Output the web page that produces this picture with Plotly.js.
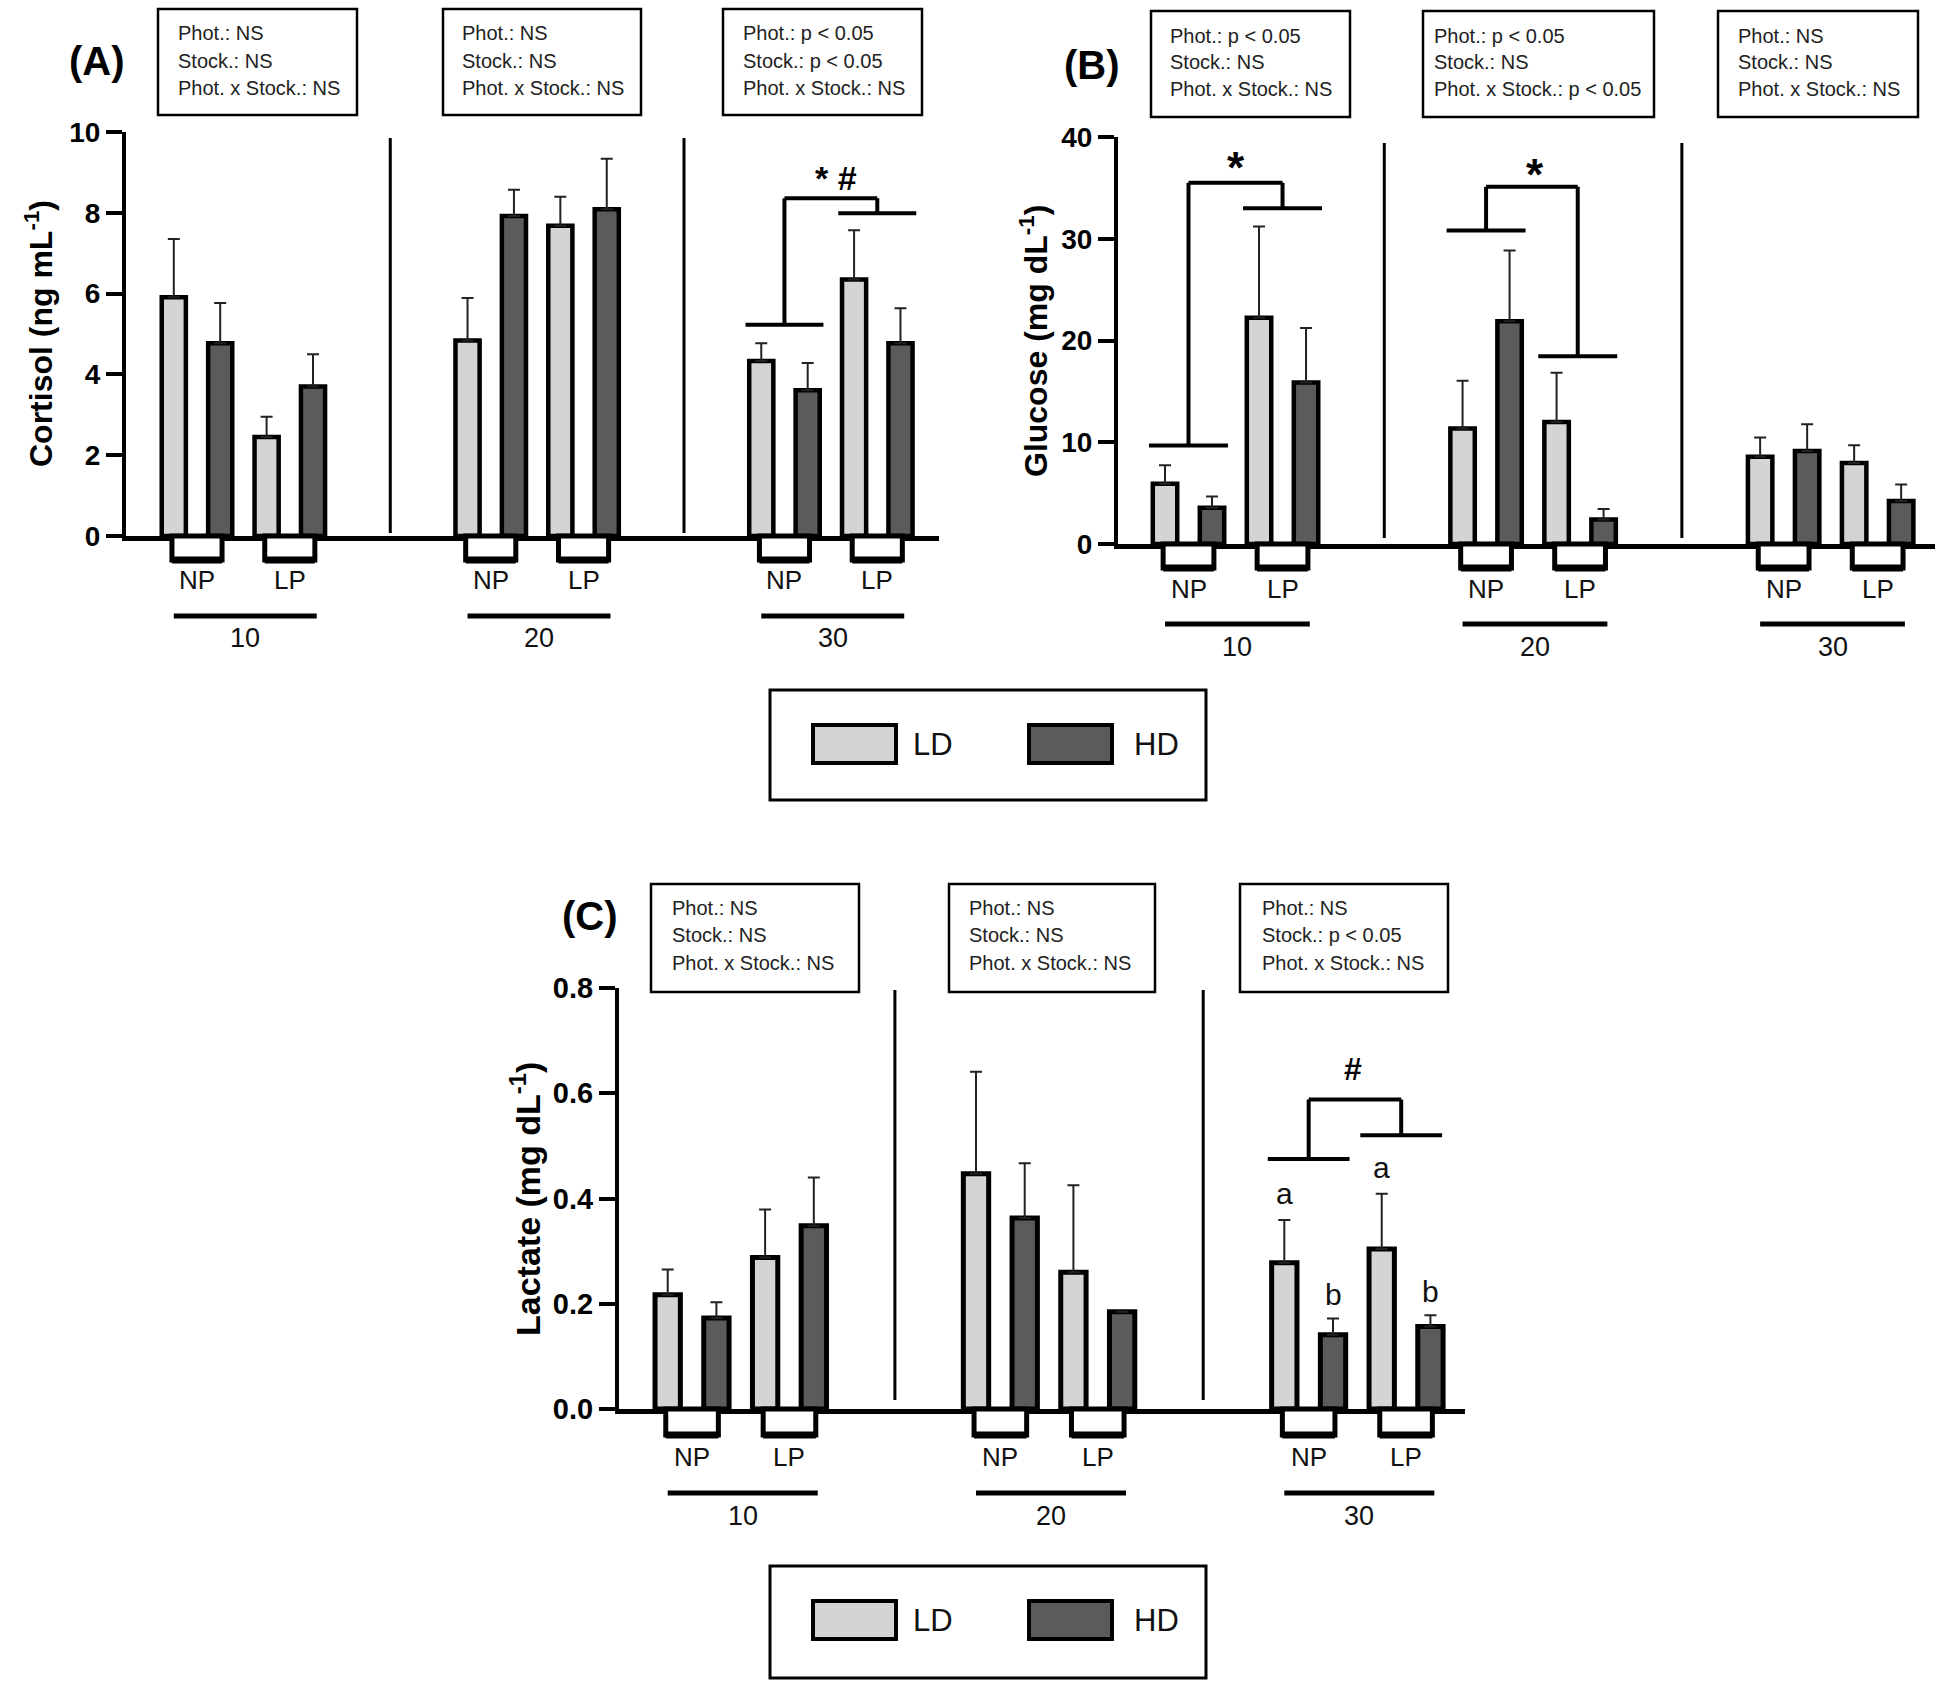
<!DOCTYPE html>
<html><head><meta charset="utf-8">
<script src="https://cdn.plot.ly/plotly-3.0.1.min.js"></script>
<style>html,body{margin:0;padding:0;background:#fff}#chart{width:1949px;height:1682px}</style>
</head><body><div id="chart"></div>
<script>
// ---------------- data ----------------
const stockingGroups = ['10', '20', '30'];
const photoperiods = ['NP', 'LP'];
const densities = ['LD', 'HD'];
// value order: 10-NP, 10-LP, 20-NP, 20-LP, 30-NP, 30-LP
const cortisolLD   = [5.91, 2.45, 4.84, 7.68, 4.33, 6.35];
const cortisolLDse = [1.44, 0.50, 1.05, 0.72, 0.44, 1.22];
const cortisolHD   = [4.77, 3.70, 7.92, 8.09, 3.61, 4.77];
const cortisolHDse = [1.00, 0.80, 0.65, 1.25, 0.67, 0.87];
const glucoseLD    = [5.93, 22.24, 11.34, 12.00, 8.57, 7.96];
const glucoseLDse  = [1.81, 8.96, 4.70, 4.84, 1.89, 1.75];
const glucoseHD    = [3.56, 15.87, 21.89, 2.42, 9.14, 4.22];
const glucoseHDse  = [1.10, 5.36, 6.95, 1.01, 2.64, 1.63];
const lactateLD    = [0.217, 0.288, 0.447, 0.260, 0.278, 0.304];
const lactateLDse  = [0.048, 0.091, 0.194, 0.165, 0.081, 0.105];
const lactateHD    = [0.173, 0.348, 0.363, 0.185, 0.141, 0.157];
const lactateHDse  = [0.030, 0.092, 0.104, 0.000, 0.031, 0.021];
const lactateLetterLD = ['', '', '', '', 'a', 'a'];
const lactateLetterHD = ['', '', '', '', 'b', 'b'];

const cortisolTicks = [0, 2, 4, 6, 8, 10];
const glucoseTicks  = [0, 10, 20, 30, 40];
const lactateTicks  = [0, 0.2, 0.4, 0.6, 0.8];

const statsCortisol = [
  ['Phot.: NS', 'Stock.: NS', 'Phot. x Stock.: NS'],
  ['Phot.: NS', 'Stock.: NS', 'Phot. x Stock.: NS'],
  ['Phot.: p < 0.05', 'Stock.: p < 0.05', 'Phot. x Stock.: NS']];
const statsGlucose = [
  ['Phot.: p < 0.05', 'Stock.: NS', 'Phot. x Stock.: NS'],
  ['Phot.: p < 0.05', 'Stock.: NS', 'Phot. x Stock.: p < 0.05'],
  ['Phot.: NS', 'Stock.: NS', 'Phot. x Stock.: NS']];
const statsLactate = [
  ['Phot.: NS', 'Stock.: NS', 'Phot. x Stock.: NS'],
  ['Phot.: NS', 'Stock.: NS', 'Phot. x Stock.: NS'],
  ['Phot.: NS', 'Stock.: p < 0.05', 'Phot. x Stock.: NS']];

// ---------------- layout helpers ----------------
const W = 1949, H = 1682;
const PX = x => x / W, PY = y => 1 - y / H;
const G = 6.33; // spacing between stocking groups, in bar slots
const FONT = '"Liberation Sans", Arial, Helvetica, sans-serif';
const LDcol = '#d4d4d4', HDcol = '#5b5b5b';

// bar slot positions: group g, photoperiod p, density d -> g*G + 2p + d
const xLD = [], xHD = [];
stockingGroups.forEach((g, gi) => photoperiods.forEach((p, pi) => {
  xLD.push(gi * G + 2 * pi);
  xHD.push(gi * G + 2 * pi + 1);
}));

const panels = [
  { id: '', label: '(A)', labelPos: [97, 61], title: 'Cortisol (ng mL<sup>-1</sup>)', titlePos: [39, 334], titleSize: 32,
    ld: cortisolLD, ldSe: cortisolLDse, hd: cortisolHD, hdSe: cortisolHDse, stats: statsCortisol, ticks: cortisolTicks, fmt: 'd',
    plotX: [126, 939], plotY: [536, 132], xRange: [-1.03, 16.49], tickSize: 28,
    boxes: [[158, 357], [443, 641], [723, 922]], boxY: [9, 115], textX: [177, 461, 742], textY: [33, 61, 88],
    divY: [138, 533], subBottom: 560, npY: 580, lineY: 616, grpY: 638, barLine: 4.5 },
  { id: '2', label: '(B)', labelPos: [1092, 65], title: 'Glucose (mg dL<sup>-1</sup>)', titlePos: [1034, 341], titleSize: 32,
    ld: glucoseLD, ldSe: glucoseLDse, hd: glucoseHD, hdSe: glucoseHDse, stats: statsGlucose, ticks: glucoseTicks, fmt: 'd',
    plotX: [1118, 1935], plotY: [544, 137], xRange: [-1.0, 16.38], tickSize: 28,
    boxes: [[1151, 1350], [1423, 1654], [1718, 1918]], boxY: [11, 117], textX: [1169, 1433, 1737], textY: [36, 62, 89],
    divY: [143, 538], subBottom: 568, npY: 589, lineY: 624, grpY: 647, barLine: 4.5 },
  { id: '3', label: '(C)', labelPos: [590, 916], title: 'Lactate (mg dL<sup>-1</sup>)', titlePos: [525, 1199], titleSize: 34,
    ld: lactateLD, ldSe: lactateLDse, hd: lactateHD, hdSe: lactateHDse, stats: statsLactate, ticks: lactateTicks, fmt: '.1f',
    plotX: [619, 1465], plotY: [1409, 988], xRange: [-1.0, 16.37], tickSize: 29,
    boxes: [[651, 859], [949, 1155], [1240, 1448]], boxY: [884, 992], textX: [671, 968, 1261], textY: [908, 935, 963],
    divY: [990, 1400], subBottom: 1435, npY: 1457, lineY: 1493, grpY: 1516, barLine: 5 }
];

const traces = [], shapes = [], annotations = [];
const layout = {
  width: W, height: H, autosize: false,
  margin: { l: 0, r: 0, t: 0, b: 0, pad: 0 },
  paper_bgcolor: '#fff', plot_bgcolor: 'rgba(0,0,0,0)',
  barmode: 'overlay', showlegend: false,
  font: { family: FONT, color: '#111' },
  shapes, annotations
};

function txt(text, x, y, o) {
  return Object.assign({ text, x, y, xref: 'paper', yref: 'paper', showarrow: false,
    xanchor: 'center', yanchor: 'middle', borderpad: 0,
    font: { family: FONT, size: 26, color: '#111' } }, o || {});
}
function rectPx(x0, x1, y0, y1, lw, fill) {
  return { type: 'rect', xref: 'paper', yref: 'paper', x0: PX(x0), x1: PX(x1), y0: PY(y0), y1: PY(y1),
    line: { color: '#000', width: lw }, fillcolor: fill || 'rgba(0,0,0,0)', layer: 'above' };
}
function seg(xa, ya, x0, y0, x1, y1, lw) {
  return { type: 'line', xref: xa, yref: ya, x0, y0, x1, y1, line: { color: '#000', width: lw }, layer: 'above' };
}

panels.forEach(p => {
  const xa = 'x' + p.id, ya = 'y' + p.id;
  const zeros = p.ld.map(() => 0);
  traces.push({ type: 'bar', name: 'LD', x: xLD, y: p.ld, xaxis: xa, yaxis: ya, width: 0.52,
    marker: { color: LDcol, line: { color: '#000', width: p.barLine } },
    error_y: { type: 'data', symmetric: false, array: p.ldSe, arrayminus: zeros, color: '#222', thickness: 2, width: 6 },
    hoverinfo: 'skip' });
  traces.push({ type: 'bar', name: 'HD', x: xHD, y: p.hd, xaxis: xa, yaxis: ya, width: 0.52,
    marker: { color: HDcol, line: { color: '#000', width: p.barLine } },
    error_y: { type: 'data', symmetric: false, array: p.hdSe, arrayminus: zeros, color: '#222', thickness: 2, width: 6 },
    hoverinfo: 'skip' });

  layout['xaxis' + p.id] = { domain: [PX(p.plotX[0]), PX(p.plotX[1])], range: p.xRange, anchor: ya,
    showticklabels: false, ticks: '', showline: true, linewidth: 4.5, linecolor: '#000',
    showgrid: false, zeroline: false, fixedrange: true };
  layout['yaxis' + p.id] = { domain: [PY(p.plotY[0]), PY(p.plotY[1])],
    range: [p.ticks[0], p.ticks[p.ticks.length - 1]], anchor: xa,
    tickmode: 'array', tickvals: p.ticks, tickformat: p.fmt,
    ticks: 'outside', ticklen: 16, tickwidth: 4, tickcolor: '#000',
    showline: true, linewidth: 4, linecolor: '#000', showgrid: false, zeroline: false, fixedrange: true,
    tickfont: { family: FONT, size: p.tickSize, color: '#000', weight: 'bold' } };

  // panel label & y title
  annotations.push(txt(p.label, PX(p.labelPos[0]), PY(p.labelPos[1]),
    { font: { family: FONT, size: 40, color: '#000', weight: 'bold' } }));
  annotations.push(txt(p.title, PX(p.titlePos[0]), PY(p.titlePos[1]), { textangle: -90,
    font: { family: FONT, size: p.titleSize, color: '#000', weight: 'bold' } }));

  // statistics boxes
  p.stats.forEach((lines, i) => {
    shapes.push(rectPx(p.boxes[i][0], p.boxes[i][1], p.boxY[0], p.boxY[1], 2.5));
    lines.forEach((t, j) => annotations.push(txt(t, PX(p.textX[i]), PY(p.textY[j]),
      { xanchor: 'left', font: { family: FONT, size: 20, color: '#222' } })));
  });

  // group dividers
  for (let g = 0; g < 2; g++) {
    const xd = g * G + 3 + (G - 3) / 2;
    shapes.push({ type: 'line', xref: xa, yref: 'paper', x0: xd, x1: xd, y0: PY(p.divY[0]), y1: PY(p.divY[1]),
      line: { color: '#000', width: 3 }, layer: 'above' });
  }

  // photoperiod boxes, labels, group lines and group labels under the axis
  stockingGroups.forEach((g, gi) => {
    photoperiods.forEach((ph, pi) => {
      const cx = gi * G + 2 * pi + 0.5;
      shapes.push({ type: 'rect', xref: xa, yref: 'paper', x0: cx - 0.54, x1: cx + 0.54,
        y0: PY(p.subBottom), y1: PY(p.plotY[0]), line: { color: '#000', width: 5 }, fillcolor: '#fff', layer: 'above' });
      shapes.push({ type: 'line', xref: xa, yref: 'paper', x0: cx - 0.54, x1: cx + 0.54,
        y0: PY(p.subBottom), y1: PY(p.subBottom), line: { color: '#000', width: 7 }, layer: 'above' });
      annotations.push(txt(ph, cx, PY(p.npY), { xref: xa }));
    });
    shapes.push({ type: 'line', xref: xa, yref: 'paper', x0: gi * G, x1: gi * G + 3.08,
      y0: PY(p.lineY), y1: PY(p.lineY), line: { color: '#000', width: 5 }, layer: 'above' });
    annotations.push(txt(g, gi * G + 1.54, PY(p.grpY), { xref: xa, font: { family: FONT, size: 27, color: '#111' } }));
  });
});

// significance brackets
function bracket(xa, ya, g, yL, yT, yR, rOff) {
  const l = g * G + 0.5, r = g * G + rOff, h = 0.84, lw = 4;
  shapes.push(seg(xa, ya, l - h, yL, l + h, yL, lw));
  shapes.push(seg(xa, ya, l, yL, l, yT, lw));
  shapes.push(seg(xa, ya, l, yT, r, yT, lw));
  shapes.push(seg(xa, ya, r, yT, r, yR, lw));
  shapes.push(seg(xa, ya, r - h, yR, r + h, yR, lw));
}
bracket('x', 'y', 2, 5.23, 8.36, 7.99, 2.5);
bracket('x2', 'y2', 0, 9.67, 35.5, 33.0, 2.5);
bracket('x2', 'y2', 1, 30.8, 35.1, 18.46, 2.45);
bracket('x3', 'y3', 2, 0.475, 0.588, 0.52, 2.4);

const sig = (t, xa, ya, x, y, size) => annotations.push({ text: t, x, y, xref: xa, yref: ya, showarrow: false,
  xanchor: 'center', yanchor: 'middle', font: { family: FONT, size, color: '#000', weight: 'bold' } });
sig('* #', 'x', 'y', 2 * G + 1.6, 8.85, 34);
sig('*', 'x2', 'y2', 1.5, 37.0, 44);
sig('*', 'x2', 'y2', G + 1.55, 36.3, 44);
sig('#', 'x3', 'y3', 2 * G + 1.42, 0.646, 32);

// letters above lactate bars
lactateLetterLD.forEach((t, i) => { if (t) annotations.push({ text: t, x: xLD[i], y: lactateLD[i] + lactateLDse[i] + 0.05,
  xref: 'x3', yref: 'y3', showarrow: false, font: { family: FONT, size: 30, color: '#111' } }); });
lactateLetterHD.forEach((t, i) => { if (t) annotations.push({ text: t, x: xHD[i], y: lactateHD[i] + lactateHDse[i] + 0.045,
  xref: 'x3', yref: 'y3', showarrow: false, font: { family: FONT, size: 30, color: '#111' } }); });

// legends (drawn as boxes)
function legendBox(top, bottom, swY0, swY1, textY) {
  shapes.push(rectPx(770, 1206, top, bottom, 3));
  shapes.push(rectPx(813, 896, swY0, swY1, 4, LDcol));
  shapes.push(rectPx(1029, 1112, swY0, swY1, 4, HDcol));
  annotations.push(txt(densities[0], PX(912), PY(textY), { xanchor: 'left', font: { family: FONT, size: 31, color: '#111' } }));
  annotations.push(txt(densities[1], PX(1133), PY(textY), { xanchor: 'left', font: { family: FONT, size: 31, color: '#111' } }));
}
legendBox(690, 800, 725, 763, 744);
legendBox(1566, 1678, 1601, 1639, 1620);

Plotly.newPlot('chart', traces, layout, { staticPlot: true, displayModeBar: false });
</script>
</body></html>
